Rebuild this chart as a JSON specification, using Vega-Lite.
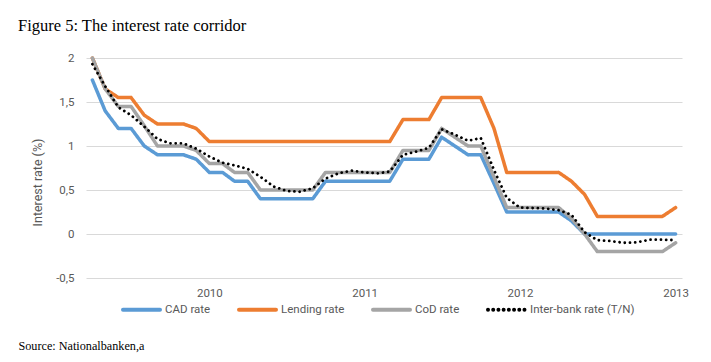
{
"$schema": "https://vega.github.io/schema/vega-lite/v6.json",
"width": 596, "height": 220,
"autosize": {"type": "none"},
"padding": {"left": 86, "top": 58, "right": 29, "bottom": 84},
"background": "white",
"title": {"text": "Figure 5: The interest rate corridor", "anchor": "start", "frame": "group", "dx": -68, "offset": 5, "baseline": "alphabetic", "font": "Liberation Serif", "fontSize": 16.5, "fontWeight": "normal", "color": "#000000"},
"data": {"values": [
{"date":"2009-04-01","series":"CAD rate","rate":1.75},{"date":"2009-05-01","series":"CAD rate","rate":1.4},{"date":"2009-06-01","series":"CAD rate","rate":1.2},{"date":"2009-07-01","series":"CAD rate","rate":1.2},{"date":"2009-08-01","series":"CAD rate","rate":1.0},{"date":"2009-09-01","series":"CAD rate","rate":0.9},{"date":"2009-10-01","series":"CAD rate","rate":0.9},{"date":"2009-11-01","series":"CAD rate","rate":0.9},{"date":"2009-12-01","series":"CAD rate","rate":0.85},
{"date":"2010-01-01","series":"CAD rate","rate":0.7},{"date":"2010-02-01","series":"CAD rate","rate":0.7},{"date":"2010-03-01","series":"CAD rate","rate":0.6},{"date":"2010-04-01","series":"CAD rate","rate":0.6},{"date":"2010-05-01","series":"CAD rate","rate":0.4},{"date":"2010-06-01","series":"CAD rate","rate":0.4},{"date":"2010-07-01","series":"CAD rate","rate":0.4},{"date":"2010-08-01","series":"CAD rate","rate":0.4},{"date":"2010-09-01","series":"CAD rate","rate":0.4},{"date":"2010-10-01","series":"CAD rate","rate":0.6},{"date":"2010-11-01","series":"CAD rate","rate":0.6},{"date":"2010-12-01","series":"CAD rate","rate":0.6},
{"date":"2011-01-01","series":"CAD rate","rate":0.6},{"date":"2011-02-01","series":"CAD rate","rate":0.6},{"date":"2011-03-01","series":"CAD rate","rate":0.6},{"date":"2011-04-01","series":"CAD rate","rate":0.85},{"date":"2011-05-01","series":"CAD rate","rate":0.85},{"date":"2011-06-01","series":"CAD rate","rate":0.85},{"date":"2011-07-01","series":"CAD rate","rate":1.1},{"date":"2011-08-01","series":"CAD rate","rate":1.0},{"date":"2011-09-01","series":"CAD rate","rate":0.9},{"date":"2011-10-01","series":"CAD rate","rate":0.9},{"date":"2011-11-01","series":"CAD rate","rate":0.575},{"date":"2011-12-01","series":"CAD rate","rate":0.25},
{"date":"2012-01-01","series":"CAD rate","rate":0.25},{"date":"2012-02-01","series":"CAD rate","rate":0.25},{"date":"2012-03-01","series":"CAD rate","rate":0.25},{"date":"2012-04-01","series":"CAD rate","rate":0.25},{"date":"2012-05-01","series":"CAD rate","rate":0.15},{"date":"2012-06-01","series":"CAD rate","rate":0},{"date":"2012-07-01","series":"CAD rate","rate":0},{"date":"2012-08-01","series":"CAD rate","rate":0},{"date":"2012-09-01","series":"CAD rate","rate":0},{"date":"2012-10-01","series":"CAD rate","rate":0},{"date":"2012-11-01","series":"CAD rate","rate":0},{"date":"2012-12-01","series":"CAD rate","rate":0},{"date":"2013-01-01","series":"CAD rate","rate":0},
{"date":"2009-04-01","series":"Lending rate","rate":2.0},{"date":"2009-05-01","series":"Lending rate","rate":1.65},{"date":"2009-06-01","series":"Lending rate","rate":1.55},{"date":"2009-07-01","series":"Lending rate","rate":1.55},{"date":"2009-08-01","series":"Lending rate","rate":1.35},{"date":"2009-09-01","series":"Lending rate","rate":1.25},{"date":"2009-10-01","series":"Lending rate","rate":1.25},{"date":"2009-11-01","series":"Lending rate","rate":1.25},{"date":"2009-12-01","series":"Lending rate","rate":1.2},
{"date":"2010-01-01","series":"Lending rate","rate":1.05},{"date":"2010-02-01","series":"Lending rate","rate":1.05},{"date":"2010-03-01","series":"Lending rate","rate":1.05},{"date":"2010-04-01","series":"Lending rate","rate":1.05},{"date":"2010-05-01","series":"Lending rate","rate":1.05},{"date":"2010-06-01","series":"Lending rate","rate":1.05},{"date":"2010-07-01","series":"Lending rate","rate":1.05},{"date":"2010-08-01","series":"Lending rate","rate":1.05},{"date":"2010-09-01","series":"Lending rate","rate":1.05},{"date":"2010-10-01","series":"Lending rate","rate":1.05},{"date":"2010-11-01","series":"Lending rate","rate":1.05},{"date":"2010-12-01","series":"Lending rate","rate":1.05},
{"date":"2011-01-01","series":"Lending rate","rate":1.05},{"date":"2011-02-01","series":"Lending rate","rate":1.05},{"date":"2011-03-01","series":"Lending rate","rate":1.05},{"date":"2011-04-01","series":"Lending rate","rate":1.3},{"date":"2011-05-01","series":"Lending rate","rate":1.3},{"date":"2011-06-01","series":"Lending rate","rate":1.3},{"date":"2011-07-01","series":"Lending rate","rate":1.55},{"date":"2011-08-01","series":"Lending rate","rate":1.55},{"date":"2011-09-01","series":"Lending rate","rate":1.55},{"date":"2011-10-01","series":"Lending rate","rate":1.55},{"date":"2011-11-01","series":"Lending rate","rate":1.2},{"date":"2011-12-01","series":"Lending rate","rate":0.7},
{"date":"2012-01-01","series":"Lending rate","rate":0.7},{"date":"2012-02-01","series":"Lending rate","rate":0.7},{"date":"2012-03-01","series":"Lending rate","rate":0.7},{"date":"2012-04-01","series":"Lending rate","rate":0.7},{"date":"2012-05-01","series":"Lending rate","rate":0.6},{"date":"2012-06-01","series":"Lending rate","rate":0.45},{"date":"2012-07-01","series":"Lending rate","rate":0.2},{"date":"2012-08-01","series":"Lending rate","rate":0.2},{"date":"2012-09-01","series":"Lending rate","rate":0.2},{"date":"2012-10-01","series":"Lending rate","rate":0.2},{"date":"2012-11-01","series":"Lending rate","rate":0.2},{"date":"2012-12-01","series":"Lending rate","rate":0.2},{"date":"2013-01-01","series":"Lending rate","rate":0.3},
{"date":"2009-04-01","series":"CoD rate","rate":2.0},{"date":"2009-05-01","series":"CoD rate","rate":1.65},{"date":"2009-06-01","series":"CoD rate","rate":1.45},{"date":"2009-07-01","series":"CoD rate","rate":1.45},{"date":"2009-08-01","series":"CoD rate","rate":1.23},{"date":"2009-09-01","series":"CoD rate","rate":1.0},{"date":"2009-10-01","series":"CoD rate","rate":1.0},{"date":"2009-11-01","series":"CoD rate","rate":1.0},{"date":"2009-12-01","series":"CoD rate","rate":0.95},
{"date":"2010-01-01","series":"CoD rate","rate":0.8},{"date":"2010-02-01","series":"CoD rate","rate":0.8},{"date":"2010-03-01","series":"CoD rate","rate":0.7},{"date":"2010-04-01","series":"CoD rate","rate":0.7},{"date":"2010-05-01","series":"CoD rate","rate":0.5},{"date":"2010-06-01","series":"CoD rate","rate":0.5},{"date":"2010-07-01","series":"CoD rate","rate":0.5},{"date":"2010-08-01","series":"CoD rate","rate":0.5},{"date":"2010-09-01","series":"CoD rate","rate":0.5},{"date":"2010-10-01","series":"CoD rate","rate":0.7},{"date":"2010-11-01","series":"CoD rate","rate":0.7},{"date":"2010-12-01","series":"CoD rate","rate":0.7},
{"date":"2011-01-01","series":"CoD rate","rate":0.7},{"date":"2011-02-01","series":"CoD rate","rate":0.7},{"date":"2011-03-01","series":"CoD rate","rate":0.7},{"date":"2011-04-01","series":"CoD rate","rate":0.95},{"date":"2011-05-01","series":"CoD rate","rate":0.95},{"date":"2011-06-01","series":"CoD rate","rate":0.95},{"date":"2011-07-01","series":"CoD rate","rate":1.2},{"date":"2011-08-01","series":"CoD rate","rate":1.1},{"date":"2011-09-01","series":"CoD rate","rate":1.0},{"date":"2011-10-01","series":"CoD rate","rate":1.0},{"date":"2011-11-01","series":"CoD rate","rate":0.65},{"date":"2011-12-01","series":"CoD rate","rate":0.3},
{"date":"2012-01-01","series":"CoD rate","rate":0.3},{"date":"2012-02-01","series":"CoD rate","rate":0.3},{"date":"2012-03-01","series":"CoD rate","rate":0.3},{"date":"2012-04-01","series":"CoD rate","rate":0.3},{"date":"2012-05-01","series":"CoD rate","rate":0.18},{"date":"2012-06-01","series":"CoD rate","rate":0.0},{"date":"2012-07-01","series":"CoD rate","rate":-0.2},{"date":"2012-08-01","series":"CoD rate","rate":-0.2},{"date":"2012-09-01","series":"CoD rate","rate":-0.2},{"date":"2012-10-01","series":"CoD rate","rate":-0.2},{"date":"2012-11-01","series":"CoD rate","rate":-0.2},{"date":"2012-12-01","series":"CoD rate","rate":-0.2},{"date":"2013-01-01","series":"CoD rate","rate":-0.1},
{"date":"2009-04-01","series":"Inter-bank rate (T/N)","rate":1.93},{"date":"2009-05-01","series":"Inter-bank rate (T/N)","rate":1.68},{"date":"2009-06-01","series":"Inter-bank rate (T/N)","rate":1.44},{"date":"2009-07-01","series":"Inter-bank rate (T/N)","rate":1.35},{"date":"2009-08-01","series":"Inter-bank rate (T/N)","rate":1.22},{"date":"2009-09-01","series":"Inter-bank rate (T/N)","rate":1.08},{"date":"2009-10-01","series":"Inter-bank rate (T/N)","rate":1.03},{"date":"2009-11-01","series":"Inter-bank rate (T/N)","rate":1.03},{"date":"2009-12-01","series":"Inter-bank rate (T/N)","rate":0.97},
{"date":"2010-01-01","series":"Inter-bank rate (T/N)","rate":0.88},{"date":"2010-02-01","series":"Inter-bank rate (T/N)","rate":0.81},{"date":"2010-03-01","series":"Inter-bank rate (T/N)","rate":0.78},{"date":"2010-04-01","series":"Inter-bank rate (T/N)","rate":0.74},{"date":"2010-05-01","series":"Inter-bank rate (T/N)","rate":0.65},{"date":"2010-06-01","series":"Inter-bank rate (T/N)","rate":0.54},{"date":"2010-07-01","series":"Inter-bank rate (T/N)","rate":0.49},{"date":"2010-08-01","series":"Inter-bank rate (T/N)","rate":0.48},{"date":"2010-09-01","series":"Inter-bank rate (T/N)","rate":0.52},{"date":"2010-10-01","series":"Inter-bank rate (T/N)","rate":0.63},{"date":"2010-11-01","series":"Inter-bank rate (T/N)","rate":0.69},{"date":"2010-12-01","series":"Inter-bank rate (T/N)","rate":0.72},
{"date":"2011-01-01","series":"Inter-bank rate (T/N)","rate":0.7},{"date":"2011-02-01","series":"Inter-bank rate (T/N)","rate":0.69},{"date":"2011-03-01","series":"Inter-bank rate (T/N)","rate":0.71},{"date":"2011-04-01","series":"Inter-bank rate (T/N)","rate":0.9},{"date":"2011-05-01","series":"Inter-bank rate (T/N)","rate":0.935},{"date":"2011-06-01","series":"Inter-bank rate (T/N)","rate":0.98},{"date":"2011-07-01","series":"Inter-bank rate (T/N)","rate":1.19},{"date":"2011-08-01","series":"Inter-bank rate (T/N)","rate":1.13},{"date":"2011-09-01","series":"Inter-bank rate (T/N)","rate":1.06},{"date":"2011-10-01","series":"Inter-bank rate (T/N)","rate":1.09},{"date":"2011-11-01","series":"Inter-bank rate (T/N)","rate":0.73},{"date":"2011-12-01","series":"Inter-bank rate (T/N)","rate":0.41},
{"date":"2012-01-01","series":"Inter-bank rate (T/N)","rate":0.3},{"date":"2012-02-01","series":"Inter-bank rate (T/N)","rate":0.295},{"date":"2012-03-01","series":"Inter-bank rate (T/N)","rate":0.29},{"date":"2012-04-01","series":"Inter-bank rate (T/N)","rate":0.27},{"date":"2012-05-01","series":"Inter-bank rate (T/N)","rate":0.22},{"date":"2012-06-01","series":"Inter-bank rate (T/N)","rate":0.02},{"date":"2012-07-01","series":"Inter-bank rate (T/N)","rate":-0.07},{"date":"2012-08-01","series":"Inter-bank rate (T/N)","rate":-0.08},{"date":"2012-09-01","series":"Inter-bank rate (T/N)","rate":-0.1},{"date":"2012-10-01","series":"Inter-bank rate (T/N)","rate":-0.095},{"date":"2012-11-01","series":"Inter-bank rate (T/N)","rate":-0.065},{"date":"2012-12-01","series":"Inter-bank rate (T/N)","rate":-0.065},{"date":"2013-01-01","series":"Inter-bank rate (T/N)","rate":-0.07}
]},
"mark": {"type": "line", "strokeCap": "round", "strokeJoin": "round"},
"encoding": {
  "x": {"field": "date", "type": "temporal",
    "scale": {"type": "utc", "domain": [{"year": 2009, "month": 3, "date": 17, "utc": true}, {"year": 2013, "month": 1, "date": 16, "utc": true}]},
    "axis": {"values": [{"year": 2010, "month": 1, "date": 1, "utc": true}, {"year": 2011, "month": 1, "date": 1, "utc": true}, {"year": 2012, "month": 1, "date": 1, "utc": true}, {"year": 2013, "month": 1, "date": 1, "utc": true}],
      "format": "%Y", "formatType": "utc", "grid": false, "ticks": false, "domain": false, "labelFlush": false, "labelOverlap": false,
      "labelFont": "Roboto", "labelFontSize": 11.5, "labelColor": "#595959", "labelPadding": 9,
      "title": "Source: Nationalbanken,a", "titleX": -68, "titleY": 71, "titleAlign": "left", "titleAnchor": null, "titleBaseline": "alphabetic",
      "titleFont": "Liberation Serif", "titleFontSize": 12.2, "titleFontWeight": "normal", "titleColor": "#000000"}},
  "y": {"field": "rate", "type": "quantitative",
    "scale": {"domain": [-0.5, 2], "nice": false, "zero": false},
    "axis": {"values": [-0.5, 0, 0.5, 1, 1.5, 2], "labelExpr": "replace(toString(datum.value), '.', ',')",
      "grid": true, "gridColor": "#D9D9D9", "gridWidth": 1, "ticks": false, "domain": false,
      "labelFont": "Roboto", "labelFontSize": 11.5, "labelColor": "#595959", "labelPadding": 12,
      "title": "Interest rate (%)", "titleFont": "Roboto", "titleFontSize": 12.5, "titleFontWeight": "normal", "titleColor": "#595959",
      "titleX": -49, "titleY": 124, "titleAlign": "center", "titleBaseline": "middle", "titleAngle": -90}},
  "color": {"field": "series", "type": "nominal",
    "scale": {"domain": ["CAD rate", "Lending rate", "CoD rate", "Inter-bank rate (T/N)"], "range": ["#5B9BD5", "#ED7D31", "#A5A5A5", "#000000"]},
    "legend": {"title": null, "orient": "none", "legendX": 35, "legendY": 231, "direction": "horizontal", "columns": 4,
      "symbolType": "stroke", "symbolSize": 1369, "symbolStrokeWidth": 4, "labelFont": "Roboto", "labelFontSize": 11.5, "labelColor": "#595959",
      "labelOffset": 3, "columnPadding": 20, "padding": 0,
      "encode": {"symbols": {"update": {"strokeCap": {"value": "round"}}}}}},
  "strokeDash": {"field": "series", "type": "nominal",
    "scale": {"domain": ["CAD rate", "Lending rate", "CoD rate", "Inter-bank rate (T/N)"], "range": [[1, 0], [1, 0], [1, 0], [0.01, 5.2]]}},
  "strokeWidth": {"condition": {"test": "datum.series === 'Inter-bank rate (T/N)'", "value": 2.8}, "value": 3.5}
},
"config": {"view": {"stroke": null}}
}
